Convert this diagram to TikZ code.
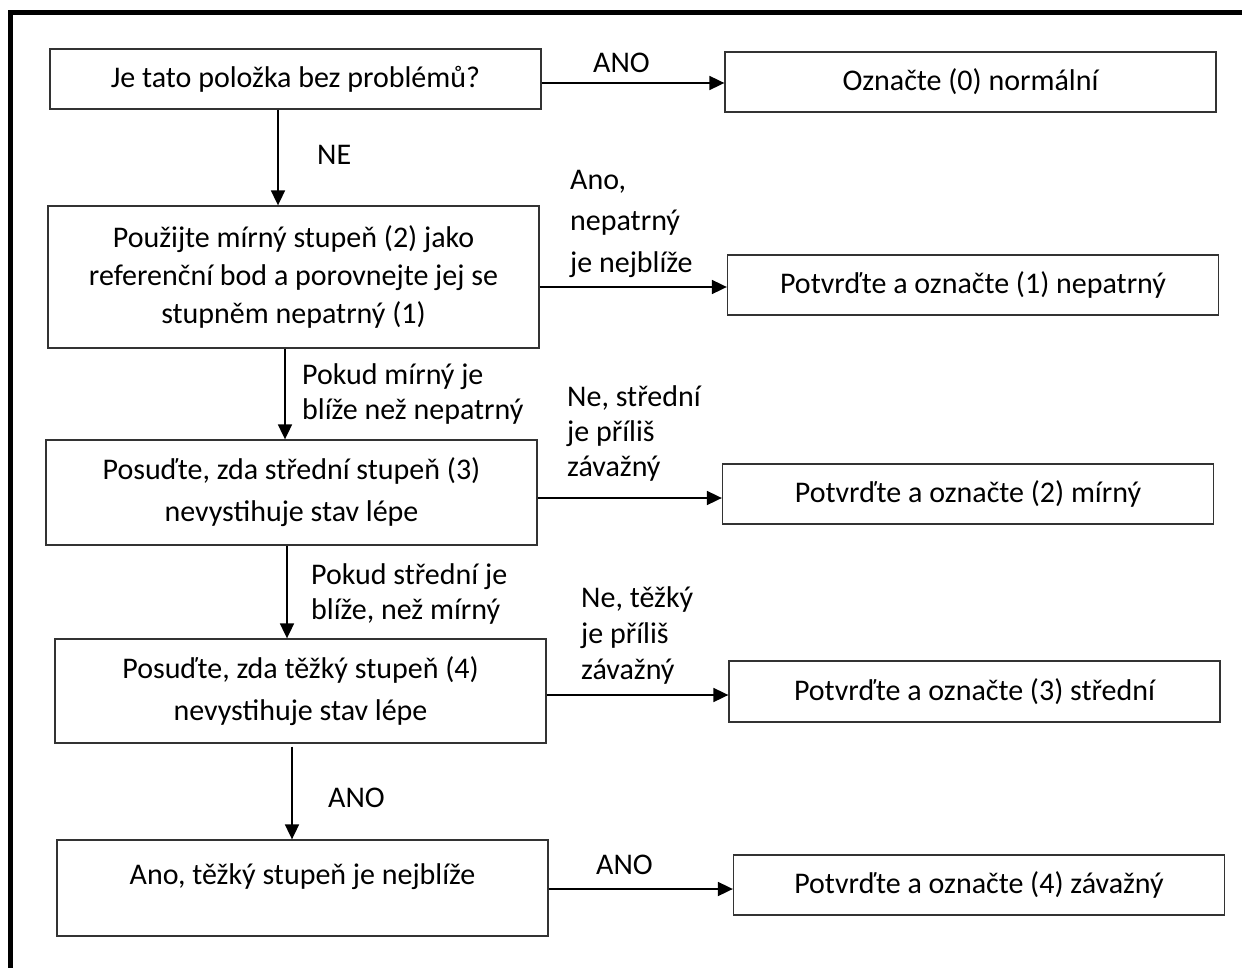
\documentclass[tikz,border=0pt]{standalone}
\usepackage{fontspec}
\setmainfont{Carlito}
\usetikzlibrary{arrows.meta}

\begin{document}
\begin{tikzpicture}[x=1pt,y=-1pt,
    font=\fontsize{30}{38}\selectfont,
    box/.style={draw=black!80, line width=1.3pt, minimum width=491pt, align=center, inner sep=0pt},
    lbl/.style={anchor=base west, align=left, inner sep=0pt},
    arr/.style={-{Triangle[length=15pt,width=14pt]}, line width=1.8pt}]

    % Set up the frame
    \useasboundingbox (0,0) rectangle (1242,968);
    \clip (0,0) rectangle (1242,968);
    \draw[line width=5pt] (10.5,12.5) rectangle (1262,990);

    % Question boxes
    \node[box, minimum height=60pt]  (q0) at (295.5,79)  {Je tato položka bez problémů?};
    \node[box, minimum height=142pt] (q1) at (293.5,277) {Použijte mírný stupeň (2) jako\\referenční bod a porovnejte jej se\\stupněm nepatrný (1)};
    \node[box, minimum height=105pt] (q2) at (291.5,492.5) {Posuďte, zda střední stupeň (3)\\[4pt]nevystihuje stav lépe};
    \node[box, minimum height=104pt] (q3) at (300.5,691) {Posuďte, zda těžký stupeň (4)\\[4pt]nevystihuje stav lépe};
    \node[box, minimum height=96pt, text depth=28pt] (q4) at (302.5,888) {Ano, těžký stupeň je nejblíže};

    % Result boxes
    \node[box, minimum height=60pt] (r0) at (970.5,82)  {Označte (0) normální};
    \node[box, minimum height=60pt] (r1) at (973,285)   {Potvrďte a označte (1) nepatrný};
    \node[box, minimum height=60pt] (r2) at (968,494)   {Potvrďte a označte (2) mírný};
    \node[box, minimum height=61pt] (r3) at (974.5,691.5) {Potvrďte a označte (3) střední};
    \node[box, minimum height=60pt] (r4) at (979,885)   {Potvrďte a označte (4) závažný};

    % Down arrows
    \draw[arr] ([xshift=-17.5pt]q0.south) -- ([xshift=-17.5pt]q0.south |- q1.north);
    \draw[arr] ([xshift=-8.5pt]q1.south) -- ([xshift=-8.5pt]q1.south |- q2.north);
    \draw[arr] ([xshift=-4.5pt]q2.south) -- ([xshift=-4.5pt]q2.south |- q3.north);
    \draw[arr] ([xshift=-8.5pt,yshift=-3pt]q3.south) -- ([xshift=-8.5pt]q3.south |- q4.north);

    % Right arrows
    \draw[arr] ([yshift=-1pt]q0.east |- r0.west) -- ([yshift=-1pt]r0.west);
    \draw[arr] ([yshift=-2pt]q1.east |- r1.west) -- ([yshift=-2pt]r1.west);
    \draw[arr] ([yshift=-4pt]q2.east |- r2.west) -- ([yshift=-4pt]r2.west);
    \draw[arr] ([yshift=-3.5pt]q3.east |- r3.west) -- ([yshift=-3.5pt]r3.west);
    \draw[arr] ([yshift=-4pt]q4.east |- r4.west) -- ([yshift=-4pt]r4.west);

    % Labels (base = last line)
    \node[lbl] (ne)   at (317,165) {NE};
    \node[lbl] (ano0) at (593,73)  {ANO};
    \node[lbl] (ano1) at (570,273) {Ano,\\[4pt]nepatrný\\[4pt]je nejblíže};
    \node[lbl] (pok1) at (302,419) {Pokud mírný je\\[-3pt]blíže než nepatrný};
    \node[lbl] (ne2)  at (567,476) {Ne, střední\\[-3pt]je příliš\\[-3pt]závažný};
    \node[lbl] (pok2) at (311,619) {Pokud střední je\\[-3pt]blíže, než mírný};
    \node[lbl] (ne3)  at (581,679) {Ne, těžký\\[-2pt]je příliš\\[-2pt]závažný};
    \node[lbl] (ano3) at (328,807) {ANO};
    \node[lbl] (ano4) at (596,874) {ANO};

\end{tikzpicture}
\end{document}
